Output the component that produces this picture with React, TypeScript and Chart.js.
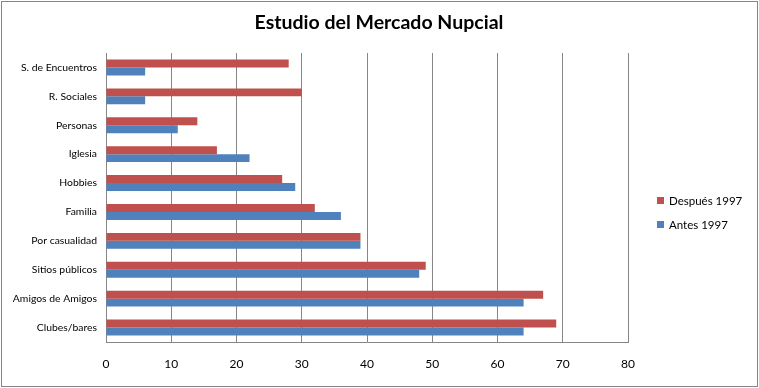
import React, { useEffect, useRef } from "react";
import { Chart, registerables } from "chart.js";

Chart.register(...registerables);

const categories = [
  "S. de Encuentros",
  "R. Sociales",
  "Personas",
  "Iglesia",
  "Hobbies",
  "Familia",
  "Por casualidad",
  "Sitios públicos",
  "Amigos de Amigos",
  "Clubes/bares",
];
const despues1997 = [28, 30, 14, 17, 27, 32, 39, 49, 67, 69];
const antes1997 = [6, 6, 11, 22, 29, 36, 39, 48, 64, 64];
const seriesLabels = ["Después 1997", "Antes 1997"];
const seriesColors = ["#C0504D", "#4F81BD"];
const titleText = "Estudio del Mercado Nupcial";
const xMin = 0;
const xMax = 80;
const xStep = 10;

const FONT = "Lato, 'Open Sans', sans-serif";

const framePlugin = {
  id: "frameAndLegend",
  afterDraw(chart: any) {
    const ctx = chart.ctx;
    ctx.save();
    ctx.strokeStyle = "#868686";
    ctx.lineWidth = 1;
    ctx.strokeRect(1.5, 1.5, 756, 385);
    // title
    ctx.font = `bold 19.5px ${FONT}`;
    ctx.fillStyle = "#000";
    ctx.textAlign = "center";
    ctx.textBaseline = "middle";
    ctx.fillText(titleText, 379, 23);
    // legend
    const ds = chart.data.datasets;
    const boxX = 657;
    const startY = 201;
    const gap = 24;
    ctx.font = `11.5px ${FONT}`;
    ctx.textBaseline = "middle";
    ctx.textAlign = "left";
    ds.forEach((d: any, i: number) => {
      const cy = startY + i * gap;
      ctx.fillStyle = d.backgroundColor;
      ctx.fillRect(boxX, cy - 4, 7, 7);
      ctx.fillStyle = "#000";
      ctx.fillText(d.label, boxX + 12, cy);
    });
    ctx.restore();
  },
};

export default function App() {
  const ref = useRef<HTMLCanvasElement>(null);
  useEffect(() => {
    document.body.style.margin = "0";
    const canvas = ref.current!;
    const chart = new Chart(canvas, {
      type: "bar",
      data: {
        labels: categories,
        datasets: [
          {
            label: seriesLabels[0],
            data: despues1997,
            backgroundColor: seriesColors[0],
            categoryPercentage: 0.55,
            barPercentage: 1,
          },
          {
            label: seriesLabels[1],
            data: antes1997,
            backgroundColor: seriesColors[1],
            categoryPercentage: 0.55,
            barPercentage: 1,
          },
        ],
      },
      options: {
        indexAxis: "y",
        animation: false,
        responsive: false,
        layout: { padding: { left: 0, right: 131, top: 53, bottom: 0 } },
        plugins: {
          legend: { display: false },
          tooltip: { enabled: false },
          title: { display: false },
        },
        scales: {
          x: {
            min: xMin,
            max: xMax,
            ticks: {
              stepSize: xStep,
              color: "#000",
              font: { family: FONT, size: 12 },
              padding: 15,
            },
            grid: { color: "#868686", drawTicks: false },
            border: { color: "#868686" },
            afterFit(scale: any) {
              scale.height = 388 - 342;
            },
          },
          y: {
            ticks: {
              color: "#000",
              font: { family: FONT, size: 10.4 },
              padding: 9,
            },
            grid: { display: false, drawTicks: false },
            border: { color: "#868686" },
            afterFit(scale: any) {
              scale.width = 106;
            },
          },
        },
      },
      plugins: [framePlugin],
    });
    return () => chart.destroy();
  }, []);
  return <canvas ref={ref} width={759} height={388} style={{ display: "block" }} />;
}
